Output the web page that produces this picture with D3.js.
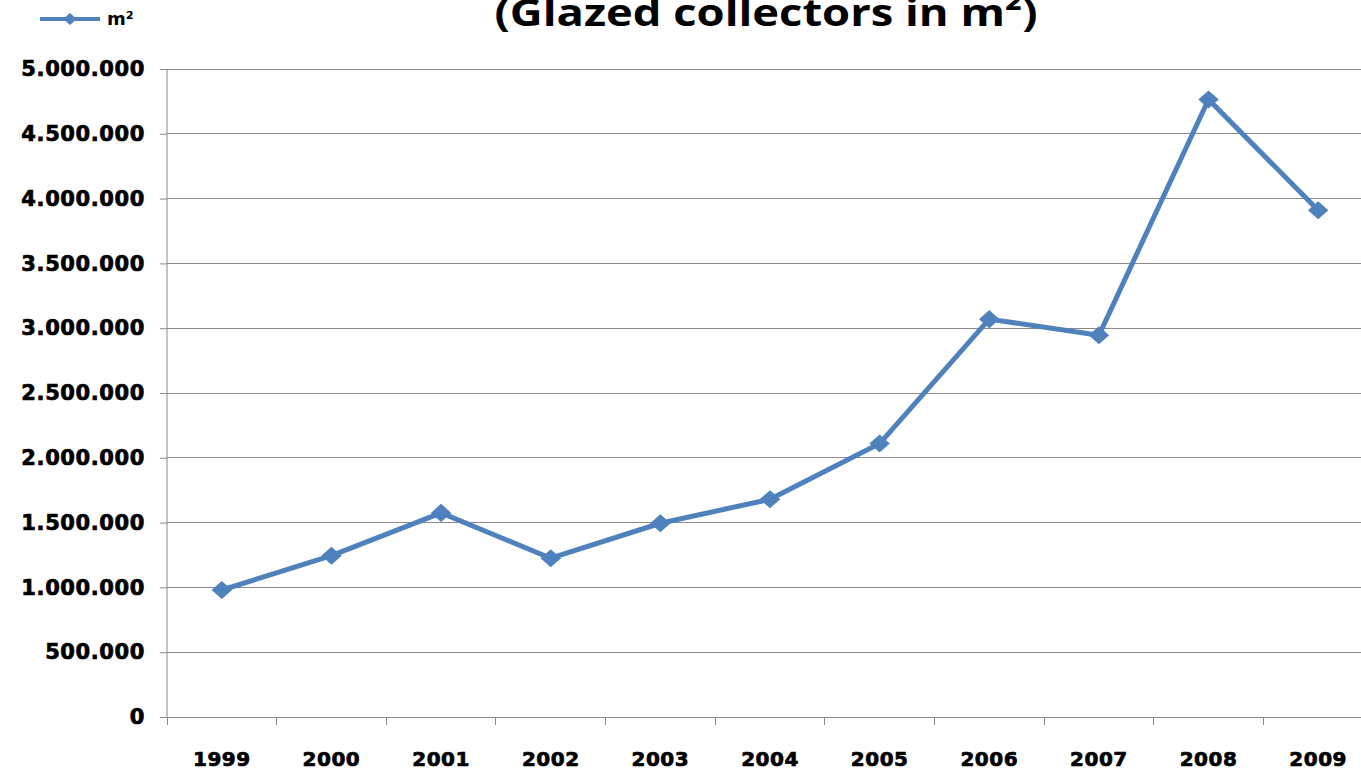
<!DOCTYPE html>
<html>
<head>
<meta charset="utf-8">
<script src="https://cdn.jsdelivr.net/npm/d3@7"></script>
<style>
  html, body { margin: 0; padding: 0; background: #fff; }
  svg { display: block; }
</style>
</head>
<body>
<div id="chart"></div>
<script>
const years = ['1999', '2000', '2001', '2002', '2003', '2004', '2005', '2006', '2007', '2008', '2009'];
const areaM2 = [980000, 1245000, 1575000, 1225000, 1495000, 1680000, 2110000, 3070000, 2945000, 4765000, 3910000];
const yTicks = [0, 500000, 1000000, 1500000, 2000000, 2500000, 3000000, 3500000, 4000000, 4500000, 5000000];
const seriesName = 'm²';
const titleText = '(Glazed collectors in m²)';

const W = 1361, H = 771;
const margin = { top: 69, right: -12, bottom: 54, left: 167 };
const LINE = '#4f81bd';
const GRID = '#8a8a8a';
const LABEL_FONT = '"DejaVu Sans", Verdana, sans-serif';

const locale = d3.formatLocale({ decimal: ',', thousands: '.', grouping: [3], currency: ['', ''] });
const fmt = locale.format(',d');

const svg = d3.select('#chart').append('svg')
    .attr('width', W).attr('height', H);

const x = d3.scaleBand()
    .domain(years)
    .range([margin.left, W - margin.right])
    .padding(0);
const y = d3.scaleLinear()
    .domain([0, 5000000])
    .range([H - margin.bottom, margin.top]);

// gridlines
svg.append('g').attr('class', 'grid')
    .selectAll('line')
    .data(yTicks.filter(d => d > 0))
    .join('line')
    .attr('x1', margin.left).attr('x2', W)
    .attr('y1', d => y(d)).attr('y2', d => y(d))
    .attr('stroke', GRID).attr('stroke-width', 1)
    .attr('shape-rendering', 'crispEdges');

// y axis
const yAxisG = svg.append('g')
    .attr('transform', `translate(${margin.left},0)`)
    .call(d3.axisLeft(y).tickValues(yTicks).tickFormat(fmt).tickSize(7).tickPadding(15));
yAxisG.select('.domain').attr('stroke', GRID).attr('d', `M0,${y(0)}V${y(5000000)}`);
yAxisG.selectAll('.tick line').attr('stroke', GRID);
yAxisG.selectAll('.tick text')
    .attr('font-family', LABEL_FONT)
    .attr('font-weight', 'bold')
    .attr('font-size', 21)
    .attr('letter-spacing', 0.6)
    .attr('fill', '#000')
    .attr('stroke', '#000').attr('stroke-width', 0.7);

// x axis (category boundaries as ticks)
const xAxisG = svg.append('g')
    .attr('transform', `translate(0,${y(0)})`);
xAxisG.append('line')
    .attr('x1', margin.left - 7).attr('x2', W)
    .attr('y1', 0).attr('y2', 0)
    .attr('stroke', GRID).attr('shape-rendering', 'crispEdges');
xAxisG.selectAll('.xtick')
    .data(years)
    .join('line')
    .attr('class', 'xtick')
    .attr('x1', d => x(d)).attr('x2', d => x(d))
    .attr('y1', 0).attr('y2', 8)
    .attr('stroke', GRID).attr('shape-rendering', 'crispEdges');
xAxisG.selectAll('.xlabel')
    .data(years)
    .join('text')
    .attr('class', 'xlabel')
    .attr('x', d => x(d) + x.bandwidth() / 2)
    .attr('y', 49)
    .attr('text-anchor', 'middle')
    .attr('font-family', LABEL_FONT)
    .attr('font-weight', 'bold')
    .attr('font-size', 20)
    .attr('letter-spacing', 0.5)
    .attr('fill', '#000')
    .attr('stroke', '#000').attr('stroke-width', 0.7)
    .text(d => d);

// series line
const pts = years.map((yr, i) => ({ yr, v: areaM2[i] }));
const line = d3.line()
    .x(d => x(d.yr) + x.bandwidth() / 2)
    .y(d => y(d.v));
svg.append('path')
    .datum(pts)
    .attr('d', line)
    .attr('fill', 'none')
    .attr('stroke', LINE)
    .attr('stroke-width', 5)
    .attr('stroke-linejoin', 'round');

const marker = d3.symbol().type(d3.symbolSquare).size(180);
svg.append('g').selectAll('path')
    .data(pts)
    .join('path')
    .attr('transform', d => `translate(${x(d.yr) + x.bandwidth() / 2},${y(d.v)}) scale(1.08,0.95) rotate(45)`)
    .attr('d', marker)
    .attr('fill', LINE);

// title (cut at top edge like the reference)
svg.append('text')
    .attr('x', 766).attr('y', 26)
    .attr('text-anchor', 'middle')
    .attr('font-family', '"Open Sans", sans-serif')
    .attr('font-weight', 'bold')
    .attr('font-size', 38)
    .attr('textLength', 543)
    .attr('lengthAdjust', 'spacingAndGlyphs')
    .attr('fill', '#000')
    .text(titleText);

// legend
const leg = svg.append('g').attr('transform', 'translate(40,19)');
leg.append('line')
    .attr('x1', 0).attr('x2', 60).attr('y1', 0).attr('y2', 0)
    .attr('stroke', LINE).attr('stroke-width', 4);
leg.append('path')
    .attr('transform', 'translate(30,0) scale(1.15,1) rotate(45)')
    .attr('d', d3.symbol().type(d3.symbolSquare).size(70))
    .attr('fill', LINE);
leg.append('text')
    .attr('x', 67).attr('y', 6)
    .attr('font-family', LABEL_FONT)
    .attr('font-weight', 'bold')
    .attr('font-size', 18)
    .attr('fill', '#000')
    .text(seriesName);
</script>
</body>
</html>
